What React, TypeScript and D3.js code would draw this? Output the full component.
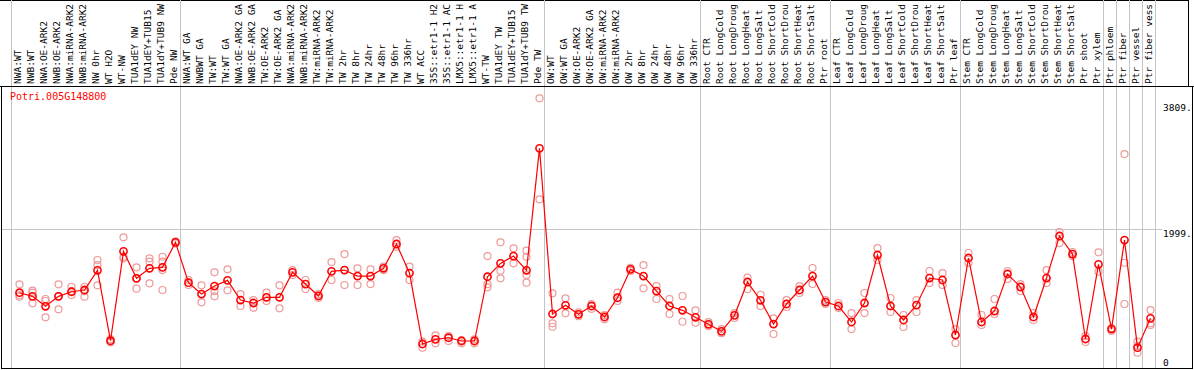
import * as d3 from 'd3';

const geneId = 'Potri.005G148800';

const labels = [
  'NWA:WT', 'NWB:WT', 'NWA:OE-ARK2', 'NWB:OE-ARK2', 'NWA:miRNA-ARK2', 'NWB:miRNA-ARK2',
  'NW 0hr', 'WT H2O', 'WT-NW', 'TUA1dEY NW', 'TUA1dEY+TUB15', 'TUA1dY+TUB9 NW', 'Pde NW',
  'NWA:WT GA', 'NWBWT GA', 'TW:WT', 'TW:WT GA', 'NWA:OE-ARK2 GA', 'NWB:OE-ARK2 GA',
  'TW:OE-ARK2', 'TW:OE-ARK2 GA', 'NWA:miRNA-ARK2', 'NWB:miRNA-ARK2', 'TW:miRNA-ARK2',
  'TW:miRNA-ARK2', 'TW 2hr', 'TW 8hr', 'TW 24hr', 'TW 48hr', 'TW 96hr', 'TW 336hr',
  'WT ACC', '35S::etr1-1 H2', '35S::etr1-1 AC', 'LMX5::etr1-1 H', 'LMX5::etr1-1 A',
  'WT-TW', 'TUA1dEY TW', 'TUA1dEY+TUB15', 'TUA1dY+TUB9 TW', 'Pde TW',
  'OW:WT', 'OW:WT GA', 'OW:OE-ARK2', 'OW:OE-ARK2 GA', 'OW:miRNA-ARK2', 'OW:miRNA-ARK2',
  'OW 2hr', 'OW 8hr', 'OW 24hr', 'OW 48hr', 'OW 96hr', 'OW 336hr',
  'Root CTR', 'Root LongCold', 'Root LongDroug', 'Root LongHeat', 'Root LongSalt',
  'Root ShortCold', 'Root ShortDrou', 'Root ShortHeat', 'Root ShortSalt', 'Ptr root',
  'Leaf CTR', 'Leaf LongCold', 'Leaf LongDroug', 'Leaf LongHeat', 'Leaf LongSalt',
  'Leaf ShortCold', 'Leaf ShortDrou', 'Leaf ShortHeat', 'Leaf ShortSalt', 'Ptr leaf',
  'Stem CTR', 'Stem LongCold', 'Stem LongDroug', 'Stem LongHeat', 'Stem LongSalt',
  'Stem ShortCold', 'Stem ShortDrou', 'Stem ShortHeat', 'Stem ShortSalt', 'Ptr shoot',
  'Ptr xylem', 'Ptr phloem', 'Ptr fiber', 'Ptr vessel', 'Ptr fiber vess',
];

// mean expression per sample (red line)
const means = [
  1082, 1030, 887, 1030, 1096, 1121, 1404, 392, 1677, 1289, 1433, 1447, 1806,
  1226, 1063, 1178, 1260, 977, 934, 1016, 1016, 1375, 1207, 1035, 1390, 1408, 1322, 1322,
  1433, 1782, 1365, 345, 412, 435, 388, 388, 1312, 1504, 1609, 1404, 3157,
  776, 901, 772, 891, 733, 1010, 1418, 1322, 1106, 891, 829, 729,
  628, 527, 757, 1236, 973, 632, 920, 1121, 1322, 948,
  891, 661, 934, 1624, 891, 690, 905, 1293, 1265, 474,
  1581, 661, 819, 1351, 1164, 733, 1293, 1897, 1638, 417, 1490,
  560, 1839, 292, 714,
];

// individual replicates (pink circles)
const reps = [
  [1203, 1049, 1025], [1111, 1082, 930], [992, 963, 729], [1203, 1030, 843],
  [1168, 1106, 1049], [1168, 1106, 1025], [1552, 1480, 1188], [417, 378, 369],
  [1878, 1576, 1599], [1447, 1140, 1289], [1576, 1528, 1217], [1599, 1528, 1408, 1121],
  [1820, 1790],
  [1265, 1193], [1188, 944], [1375, 1106, 1030], [1418, 1117], [1063, 891], [977, 867],
  [1082, 963], [1188, 858], [1408, 1336], [1265, 1135], [1063, 1006], [1523, 1265],
  [1638, 1193], [1433, 1193], [1418, 1207], [1456, 1408], [1839, 1743], [1456, 1265],
  [378, 292], [470, 355], [460, 388], [402, 355], [412, 355],
  [1609, 1207, 1160], [1806, 1398, 1289], [1720, 1504], [1686, 1599, 1336, 1226],
  [3876, 2424],
  [1073, 642, 593], [1002, 786], [800, 745], [920, 850], [760, 700], [1082, 963],
  [1440, 1395], [1480, 1145], [1178, 992], [992, 776], [1035, 665], [829, 651],
  [660, 600], [560, 500], [790, 720], [1298, 1135], [1053, 891], [714, 489],
  [977, 877], [1178, 1078], [1437, 1207], [977, 920],
  [934, 862], [790, 560], [1078, 790], [1724, 1552], [1006, 805], [762, 589],
  [977, 805], [1394, 1221], [1365, 1193], [560, 359],
  [1653, 1509], [762, 618], [992, 776], [1394, 1279], [1207, 1106], [790, 690],
  [1408, 1221], [1954, 1796], [1667, 1609], [460, 374], [1663, 1384],
  [575, 532], [3075, 1513, 920], [378, 316, 220], [833, 642, 618],
];

// sample index where each grey group separator sits
const groupBreaks = [0, 13, 41, 53, 63, 73, 84, 85, 86, 87, 88];

const yTicks = [0, 1999, 3809];
const gridTicks = [1999];

const width = 1194, height = 370;
const headerBottom = 86;
const plotBottom = 368;
const font = '"DejaVu Sans Mono", monospace';

export default function App() {
  const x = d3.scaleBand<number>()
    .domain(d3.range(labels.length))
    .range([11, 11 + labels.length * 13]);
  const cx = (i: number) => (x(i) ?? 0) + 8.5;

  const y = d3.scaleLinear().domain([0, 3809]).range([plotBottom, 103]);

  const linePath = d3.line<number>()
    .x((d, i) => cx(i))
    .y((d) => y(d))(means) || '';

  const sepX = (k: number) => 11.5 + k * x.bandwidth();

  return (
    <svg width={width} height={height} style={{ position: 'absolute', left: 0, top: 0, background: '#fff' }}>
      {/* header frame */}
      <line x1={0} x2={1188.5} y1={0.5} y2={0.5} stroke="#000" />
      <line x1={1188.5} x2={1188.5} y1={0} y2={headerBottom} stroke="#000" />

      {/* group separators */}
      {groupBreaks.map((k) => (
        <line key={k} x1={sepX(k)} x2={sepX(k)} y1={0} y2={plotBottom + 1} stroke="#c4c4c4" />
      ))}

      {/* grid */}
      {gridTicks.map((t) => (
        <line key={t} x1={2} x2={1162} y1={Math.round(y(t)) + 0.5} y2={Math.round(y(t)) + 0.5} stroke="#c4c4c4" />
      ))}

      {/* plot frame */}
      <line x1={0} x2={width} y1={headerBottom + 0.5} y2={headerBottom + 0.5} stroke="#000" />
      <rect x={1.5} y={headerBottom + 0.5} width={1191} height={plotBottom - headerBottom} fill="none" stroke="#000" />

      {/* sample labels */}
      {labels.map((l, i) => (
        <text
          key={i}
          transform={`translate(${cx(i) + 1.5},84) rotate(-90)`}
          fontFamily={font}
          fontSize={9.5}
          fill="#000">
          {l}
        </text>
      ))}

      <text x={10} y={100} fontFamily={font} fontSize={10} fill="#ff0000">{geneId}</text>

      {/* y labels */}
      {yTicks.map((t) => (
        <text
          key={t}
          x={1163}
          y={t === 0 ? y(t) - 2 : y(t) + 8}
          fontFamily={font}
          fontSize={9.5}
          fill="#000">
          {t === 0 ? '0' : `${t}.`}
        </text>
      ))}

      {/* replicates */}
      {reps.map((r, i) =>
        r.map((v, j) => (
          <circle key={`${i}-${j}`} cx={cx(i)} cy={y(v)} r={3.5} fill="none" stroke="#ee9a9a" strokeWidth={1.2} />
        ))
      )}

      <path d={linePath} fill="none" stroke="#ff0000" strokeWidth={1.2} />

      {means.map((v, i) => (
        <circle key={i} cx={cx(i)} cy={y(v)} r={3.6} fill="none" stroke="#ff0000" strokeWidth={1.6} />
      ))}
    </svg>
  );
}
